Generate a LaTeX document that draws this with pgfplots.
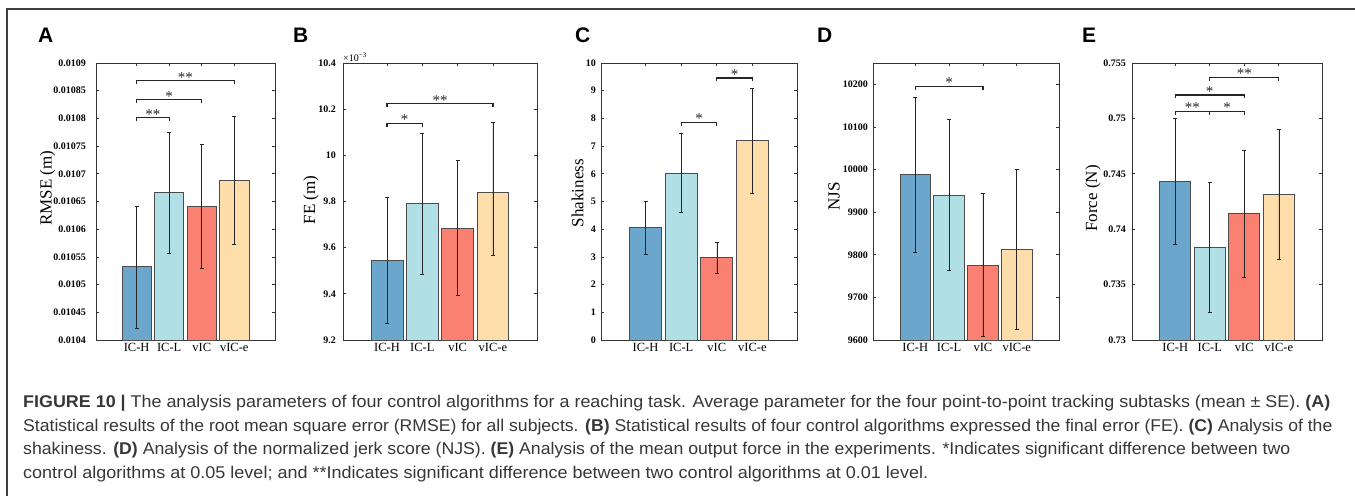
\documentclass[border=0pt]{standalone}
\usepackage{pgfplots}
\pgfplotsset{compat=1.18}
\usepackage{fontspec}
\usepackage{graphicx}
\setmainfont{Liberation Serif}
\newfontfamily\capfont{Liberation Sans}
\definecolor{cH}{RGB}{107,166,204}
\definecolor{cL}{RGB}{176,224,230}
\definecolor{cV}{RGB}{250,128,114}
\definecolor{cE}{RGB}{253,222,170}
\definecolor{capc}{RGB}{55,55,55}
\pgfplotsset{
  panel/.style={
    scale only axis, height=277pt, anchor=south west,
    xmin=-0.25, xmax=5.25, xtick={1,2,3,4}, xticklabels={IC-H,IC-L,vIC,vIC-e},
    tick align=inside, major tick length=3pt,
    axis line style={black!80, line width=0.9pt},
    tick style={black!80, line width=0.8pt},
    xticklabel style={font=\fontsize{12.5}{14}\selectfont},
    yticklabel style={font=\fontsize{10}{12}\selectfont\bfseries},
    /pgf/number format/assume math mode=true,
    scaled ticks=false,
  },
  bar/.style={ybar, bar width=0.9, bar shift=0pt, draw=black!70, line width=0.8pt, fill=#1,
    error bars/.cd, y dir=both, y explicit,
    error bar style={black!85, line width=0.6pt},
    error mark options={rotate=90, mark size=2pt, line width=0.6pt, black!85}},
  brk/.style={black!85, line width=1.2pt, mark=none},
}
\tikzset{sigstar/.style={anchor=base, yshift=-1.5pt, inner sep=0pt, font=\fontsize{15}{15}\selectfont, text=black!85}}
\begin{document}
\begin{tikzpicture}
\path[use as bounding box] (0,0) rectangle (1355pt,-496pt);
\draw[line width=1.3pt, black!75] (1355pt,-9pt) -- (7pt,-9pt) -- (7pt,-496pt);

% ---------------- A
\begin{axis}[panel, at={(96pt,-340pt)}, width=179pt,
  ymin=0.0104, ymax=0.0109,
  ytick={0.0104,0.01045,0.0105,0.01055,0.0106,0.01065,0.0107,0.01075,0.0108,0.01085,0.0109},
  yticklabels={0.0104,0.01045,0.0105,0.01055,0.0106,0.01065,0.0107,0.01075,0.0108,0.01085,0.0109},
  yticklabel style={xshift=-6.5pt}]
\addplot[bar=cH] coordinates {(1,0.010532) += (0,0.000110) -= (0,0.000111)};
\addplot[bar=cL] coordinates {(2,0.010667) += (0,0.000108) -= (0,0.000111)};
\addplot[bar=cV] coordinates {(3,0.010641) += (0,0.000112) -= (0,0.000111)};
\addplot[bar=cE] coordinates {(4,0.010688) += (0,0.000115) -= (0,0.000116)};
\addplot[brk] coordinates {(1,0.0107945) (1,0.010801) (2,0.010801) (2,0.0107945)};
\addplot[brk] coordinates {(1,0.0108275) (1,0.010834) (3,0.010834) (3,0.0108275)};
\addplot[brk] coordinates {(1,0.0108615) (1,0.010868) (4,0.010868) (4,0.0108615)};
\node[sigstar] at (axis cs:1.5,0.010801) {**};
\node[sigstar] at (axis cs:2,0.010834) {*};
\node[sigstar] at (axis cs:2.5,0.010868) {**};
\end{axis}

% ---------------- B
\begin{axis}[panel, at={(343pt,-340pt)}, width=194pt,
  ymin=9.2, ymax=10.4,
  ytick={9.2,9.4,9.6,9.8,10,10.2,10.4},
  yticklabels={9.2,9.4,9.6,9.8,10,10.2,10.4},
  yticklabel style={xshift=-3.5pt}]
\addplot[bar=cH] coordinates {(1,9.547) += (0,0.272) -= (0,0.275)};
\addplot[bar=cL] coordinates {(2,9.790) += (0,0.304) -= (0,0.306)};
\addplot[bar=cV] coordinates {(3,9.685) += (0,0.292) -= (0,0.291)};
\addplot[bar=cE] coordinates {(4,9.839) += (0,0.305) -= (0,0.270)};
\addplot[brk] coordinates {(1,10.123) (1,10.138) (2,10.138) (2,10.123)};
\addplot[brk] coordinates {(1,10.209) (1,10.224) (4,10.224) (4,10.209)};
\node[sigstar] at (axis cs:1.5,10.138) {*};
\node[sigstar] at (axis cs:2.5,10.224) {**};
\end{axis}

% ---------------- C
\begin{axis}[panel, at={(601pt,-340pt)}, width=196pt,
  ymin=0, ymax=10,
  ytick={0,1,2,3,4,5,6,7,8,9,10},
  yticklabels={0,1,2,3,4,5,6,7,8,9,10},
  yticklabel style={xshift=-1.5pt}]
\addplot[bar=cH] coordinates {(1,4.05) += (0,0.95) -= (0,0.95)};
\addplot[bar=cL] coordinates {(2,6.03) += (0,1.42) -= (0,1.42)};
\addplot[bar=cV] coordinates {(3,2.97) += (0,0.55) -= (0,0.57)};
\addplot[bar=cE] coordinates {(4,7.19) += (0,1.91) -= (0,1.91)};
\addplot[brk] coordinates {(2,7.735) (2,7.86) (3,7.86) (3,7.735)};
\addplot[brk] coordinates {(3,9.335) (3,9.46) (4,9.46) (4,9.335)};
\node[sigstar] at (axis cs:2.5,7.86) {*};
\node[sigstar] at (axis cs:3.5,9.46) {*};
\end{axis}

% ---------------- D
\begin{axis}[panel, at={(873pt,-340pt)}, width=186pt,
  ymin=9600, ymax=10250,
  ytick={9600,9700,9800,9900,10000,10100,10200},
  yticklabels={9600,9700,9800,9900,10000,10100,10200},
  yticklabel style={xshift=-1.5pt}]
\addplot[bar=cH] coordinates {(1,9988) += (0,182) -= (0,183)};
\addplot[bar=cL] coordinates {(2,9940) += (0,178) -= (0,177)};
\addplot[bar=cV] coordinates {(3,9775) += (0,169) -= (0,167)};
\addplot[bar=cE] coordinates {(4,9813) += (0,187) -= (0,188)};
\addplot[brk] coordinates {(1,10187) (1,10195) (3,10195) (3,10187)};
\node[sigstar] at (axis cs:2,10195) {*};
\end{axis}

% ---------------- E
\begin{axis}[panel, at={(1132pt,-340pt)}, width=190pt,
  ymin=0.73, ymax=0.755,
  ytick={0.73,0.735,0.74,0.745,0.75,0.755},
  yticklabels={0.73,0.735,0.74,0.745,0.75,0.755},
  yticklabel style={xshift=-2.5pt}]
\addplot[bar=cH] coordinates {(1,0.74428) += (0,0.00569) -= (0,0.00560)};
\addplot[bar=cL] coordinates {(2,0.73835) += (0,0.00584) -= (0,0.00587)};
\addplot[bar=cV] coordinates {(3,0.74141) += (0,0.00569) -= (0,0.00578)};
\addplot[bar=cE] coordinates {(4,0.74314) += (0,0.00584) -= (0,0.00584)};
\addplot[brk] coordinates {(2,0.75341) (2,0.75371) (4,0.75371) (4,0.75341)};
\addplot[brk] coordinates {(1,0.75182) (1,0.75212) (3,0.75212) (3,0.75182)};
\addplot[brk] coordinates {(1,0.75033) (1,0.75063) (2,0.75063) (2,0.75033)};
\addplot[brk] coordinates {(2,0.75033) (2,0.75063) (3,0.75063) (3,0.75033)};
\node[sigstar] at (axis cs:3,0.75371) {**};
\node[sigstar] at (axis cs:2,0.75212) {*};
\node[sigstar] at (axis cs:1.5,0.75063) {**};
\node[sigstar] at (axis cs:2.5,0.75063) {*};
\end{axis}

% y labels
\begin{scope}[every node/.style={rotate=90, anchor=center, inner sep=0pt, font=\fontsize{17}{18}\selectfont}]
\node at (47.5pt,-188pt) {RMSE (m)};
\node at (311pt,-200pt) {FE (m)};
\node at (577.5pt,-193pt) {Shakiness};
\node at (834pt,-196.5pt) {NJS};
\node at (1093pt,-198.5pt) {Force (N)};
\end{scope}

% x10^-3
\node[anchor=base west, inner sep=0pt, font=\fontsize{10}{11}\selectfont] at (343pt,-61pt) {×10\textsuperscript{−3}};

% panel letters
\begin{scope}[every node/.style={anchor=base west, inner sep=0pt, font=\capfont\bfseries\fontsize{21}{22}\selectfont}]
\node at (38pt,-42pt) {A};
\node at (293pt,-42pt) {B};
\node at (575pt,-42pt) {C};
\node at (817pt,-42pt) {D};
\node at (1082pt,-42pt) {E};
\end{scope}

% caption
\begin{scope}[every node/.style={anchor=base west, inner sep=0pt, text=capc, font=\capfont\fontsize{17}{20}\selectfont}]
\node at (23pt,-407.5pt) {\resizebox{1307pt}{\height}{\textbf{FIGURE 10 |} The analysis parameters of four control algorithms for a reaching task. Average parameter for the four point-to-point tracking subtasks (mean ± SE). \textbf{(A)}}};
\node at (23pt,-431pt) {\resizebox{1309pt}{\height}{Statistical results of the root mean square error (RMSE) for all subjects. \textbf{(B)} Statistical results of four control algorithms expressed the final error (FE). \textbf{(C)} Analysis of the}};
\node at (23pt,-454.5pt) {\resizebox{1267pt}{\height}{shakiness. \textbf{(D)} Analysis of the normalized jerk score (NJS). \textbf{(E)} Analysis of the mean output force in the experiments. *Indicates significant difference between two}};
\node at (23pt,-478pt) {\resizebox{905pt}{\height}{control algorithms at 0.05 level; and **Indicates significant difference between two control algorithms at 0.01 level.}};
\end{scope}
\end{tikzpicture}
\end{document}
